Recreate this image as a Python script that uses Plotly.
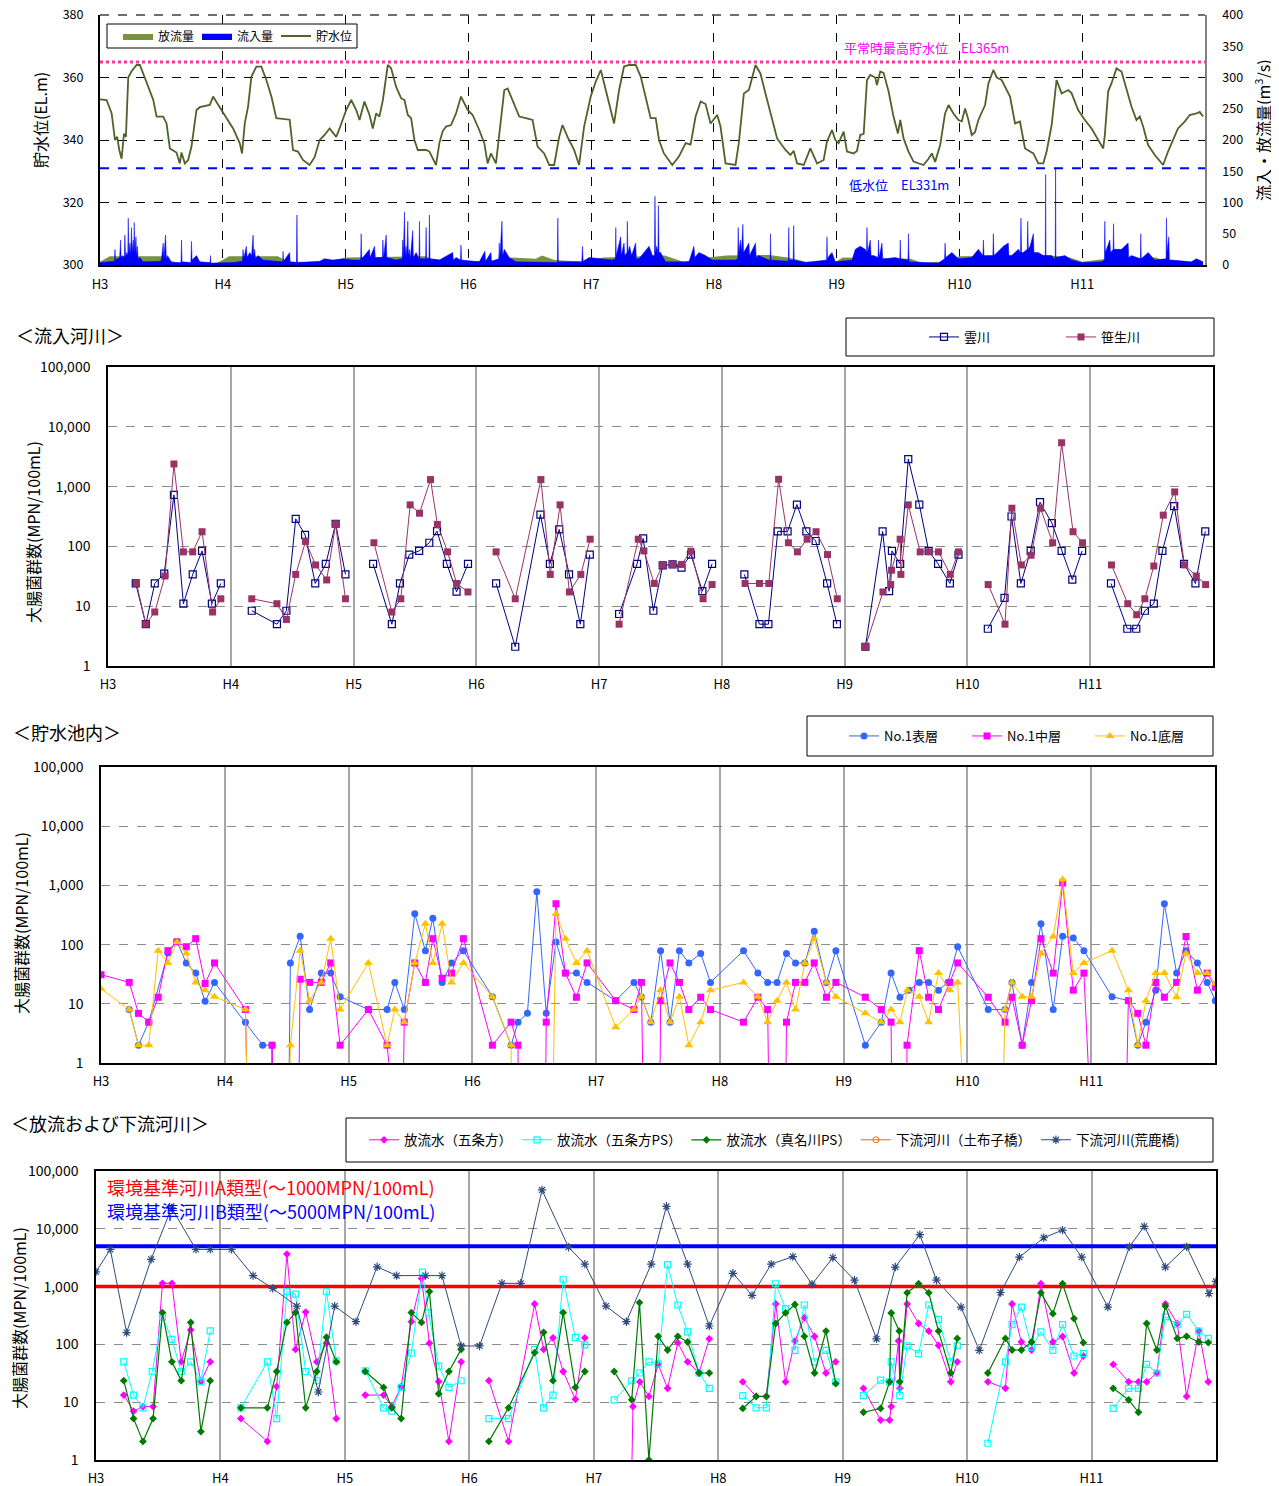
import plotly.graph_objects as go

W, H = 1279, 1486
OFF = 8  # page offset of the figure div (browser body margin)
FONT = "Noto Sans CJK JP, Noto Sans, sans-serif"


def px_x(p):
    return (p - OFF) / W


def px_y(p):
    return 1 - (p - OFF) / H


YEAR_POS = [0, 1, 2, 3, 4, 5, 6, 7, 8]
YEAR_LABELS = ["H3", "H4", "H5", "H6", "H7", "H8", "H9", "H10", "H11"]

# ---------------- Panel 1: reservoir level / inflow / outflow ----------------
LEVEL_T = [0.000, 0.054, 0.095, 0.122, 0.140, 0.157, 0.176, 0.195, 0.211, 0.230, 0.257, 0.298, 0.325, 0.393,
           0.434, 0.461, 0.515, 0.542, 0.569, 0.623, 0.650, 0.664, 0.691, 0.718, 0.745, 0.786, 0.813, 0.894,
           0.921, 0.989, 1.030, 1.084, 1.138, 1.157, 1.179, 1.206, 1.233, 1.274, 1.314, 1.355, 1.396, 1.436,
           1.545, 1.572, 1.612, 1.653, 1.707, 1.748, 1.789, 1.829, 1.870, 1.924, 1.951, 2.005, 2.046, 2.087,
           2.114, 2.154, 2.195, 2.222, 2.249, 2.276, 2.304, 2.344, 2.371, 2.412, 2.453, 2.480, 2.507, 2.534,
           2.561, 2.588, 2.629, 2.656, 2.683, 2.710, 2.737, 2.764, 2.790, 2.818, 2.859, 2.900, 2.940, 2.995,
           3.035, 3.089, 3.130, 3.157, 3.184, 3.225, 3.252, 3.293, 3.320, 3.361, 3.415, 3.469, 3.523, 3.564,
           3.618, 3.659, 3.699, 3.740, 3.767, 3.808, 3.862, 3.902, 3.943, 3.997, 4.038, 4.079, 4.119, 4.160,
           4.187, 4.228, 4.268, 4.309, 4.363, 4.404, 4.444, 4.485, 4.526, 4.553, 4.593, 4.661, 4.715, 4.770,
           4.810, 4.851, 4.892, 4.932, 4.973, 5.027, 5.054, 5.095, 5.176, 5.203, 5.244, 5.285, 5.339, 5.379,
           5.420, 5.460, 5.515, 5.583, 5.623, 5.650, 5.678, 5.732, 5.786, 5.840, 5.894, 5.921, 5.962, 5.989,
           6.016, 6.057, 6.084, 6.138, 6.165, 6.192, 6.220, 6.247, 6.274, 6.314, 6.328, 6.355, 6.382, 6.423,
           6.463, 6.499, 6.518, 6.545, 6.585, 6.626, 6.667, 6.707, 6.748, 6.775, 6.802, 6.843, 6.883, 6.911,
           6.951, 6.992, 7.019, 7.046, 7.073, 7.100, 7.127, 7.154, 7.209, 7.236, 7.276, 7.304, 7.344, 7.371,
           7.412, 7.453, 7.493, 7.534, 7.602, 7.642, 7.683, 7.710, 7.751, 7.791, 7.832, 7.886, 7.913, 7.967,
           8.022, 8.076, 8.130, 8.171, 8.184, 8.211, 8.238, 8.279, 8.320, 8.360, 8.401, 8.442, 8.469, 8.496,
           8.537, 8.591, 8.659, 8.699, 8.740, 8.780, 8.835, 8.875, 8.930, 8.957, 8.984]
LEVEL_V = [353.0, 352.8, 348.5, 340.0, 341.0, 336.8, 334.0, 342.0, 341.0, 360.0, 362.0, 364.0, 364.0, 357.0,
           352.8, 347.5, 347.5, 345.3, 337.3, 336.0, 332.5, 336.0, 332.5, 333.6, 337.9, 349.6, 350.5, 351.2,
           353.9, 349.6, 347.0, 343.7, 339.0, 335.7, 345.3, 350.7, 360.3, 363.5, 363.5, 359.2, 353.9, 347.0,
           346.5, 336.8, 336.3, 333.6, 332.0, 334.5, 340.0, 341.6, 343.7, 341.0, 343.7, 349.6, 352.8, 349.6,
           346.4, 352.3, 348.0, 343.7, 348.5, 347.5, 352.8, 364.0, 363.0, 357.0, 353.3, 352.8, 348.0, 347.0,
           340.0, 336.8, 336.8, 336.8, 336.3, 334.0, 332.0, 339.0, 342.7, 344.3, 344.8, 348.5, 353.9, 349.6,
           348.0, 343.2, 339.0, 332.5, 335.7, 332.5, 342.0, 356.0, 356.5, 352.8, 347.5, 347.0, 346.4, 337.9,
           335.7, 332.0, 332.0, 341.0, 344.8, 341.0, 336.8, 332.0, 344.3, 353.9, 358.7, 362.4, 356.0, 349.6,
           345.3, 356.0, 363.5, 364.0, 364.0, 360.3, 353.9, 347.0, 347.0, 340.0, 335.7, 332.0, 334.7, 339.0,
           338.5, 347.5, 352.3, 351.5, 345.3, 348.0, 344.3, 332.5, 332.0, 339.0, 354.9, 356.0, 364.0, 361.3,
           354.9, 348.5, 340.5, 336.8, 335.2, 336.5, 332.5, 332.0, 337.3, 332.5, 333.6, 339.5, 343.2, 340.0,
           339.0, 342.7, 336.3, 335.7, 336.5, 341.6, 342.0, 359.2, 360.8, 360.0, 357.6, 361.9, 361.5, 355.5,
           347.5, 342.1, 346.4, 340.5, 336.3, 333.1, 332.5, 332.0, 334.0, 335.7, 333.0, 338.4, 348.5, 351.2,
           348.5, 346.4, 346.0, 350.1, 346.4, 341.6, 342.5, 346.4, 351.2, 358.1, 362.4, 360.0, 359.2, 357.0,
           353.9, 345.3, 345.9, 337.3, 335.7, 332.5, 332.5, 336.3, 344.8, 359.2, 354.9, 356.0, 355.0, 349.6,
           346.4, 343.7, 340.0, 337.3, 341.5, 355.5, 358.1, 362.9, 361.9, 356.5, 350.7, 346.4, 347.5, 344.3,
           338.4, 335.2, 332.0, 336.3, 340.0, 343.7, 345.9, 348.0, 348.5, 349.0, 347.5]

INFLOW_T = [0.000, 0.081, 0.118, 0.122, 0.126, 0.141, 0.160, 0.168, 0.172, 0.184, 0.198, 0.203, 0.208, 0.217,
            0.226, 0.230, 0.235, 0.244, 0.250, 0.257, 0.262, 0.271, 0.275, 0.279, 0.284, 0.293, 0.298, 0.304,
            0.310, 0.325, 0.352, 0.495, 0.501, 0.515, 0.520, 0.534, 0.540, 0.550, 0.583, 0.660, 0.664, 0.668,
            0.740, 0.745, 0.750, 0.786, 0.813, 0.897, 0.900, 0.904, 1.084, 1.160, 1.165, 1.170, 1.192, 1.198,
            1.220, 1.235, 1.247, 1.252, 1.260, 1.266, 1.287, 1.328, 1.488, 1.491, 1.495, 1.545, 1.549, 1.600,
            1.604, 1.608, 1.789, 1.829, 1.897, 1.978, 2.060, 2.123, 2.127, 2.132, 2.195, 2.200, 2.236, 2.242,
            2.300, 2.304, 2.310, 2.331, 2.336, 2.412, 2.462, 2.466, 2.470, 2.480, 2.485, 2.493, 2.499, 2.507,
            2.512, 2.520, 2.527, 2.547, 2.552, 2.575, 2.598, 2.602, 2.606, 2.652, 2.656, 2.660, 2.679, 2.683,
            2.688, 2.764, 2.873, 2.878, 2.900, 2.936, 2.940, 2.945, 3.089, 3.135, 3.140, 3.184, 3.189, 3.248,
            3.252, 3.256, 3.274, 3.279, 3.293, 3.333, 3.388, 3.725, 3.729, 3.733, 3.924, 3.930, 3.935, 3.984,
            4.173, 4.198, 4.201, 4.205, 4.241, 4.246, 4.268, 4.274, 4.292, 4.295, 4.299, 4.314, 4.330, 4.363,
            4.368, 4.390, 4.472, 4.499, 4.516, 4.520, 4.525, 4.534, 4.544, 4.548, 4.553, 4.566, 4.607, 4.797,
            4.837, 4.845, 4.878, 4.932, 4.986, 5.176, 5.194, 5.198, 5.203, 5.217, 5.225, 5.236, 5.241, 5.257,
            5.285, 5.290, 5.312, 5.339, 5.344, 5.366, 5.447, 5.458, 5.461, 5.465, 5.606, 5.610, 5.614, 5.646,
            5.650, 5.654, 5.745, 5.908, 5.918, 5.921, 5.925, 5.940, 5.962, 5.989, 6.125, 6.152, 6.192, 6.233,
            6.243, 6.247, 6.252, 6.274, 6.280, 6.301, 6.337, 6.341, 6.346, 6.369, 6.375, 6.396, 6.477, 6.514,
            6.518, 6.522, 6.581, 6.585, 6.590, 6.829, 6.879, 6.883, 6.888, 6.938, 6.992, 7.100, 7.154, 7.191,
            7.195, 7.200, 7.272, 7.276, 7.281, 7.358, 7.398, 7.403, 7.425, 7.480, 7.497, 7.501, 7.506, 7.520,
            7.552, 7.556, 7.561, 7.575, 7.602, 7.607, 7.642, 7.683, 7.699, 7.702, 7.705, 7.751, 7.772, 7.780,
            7.783, 7.786, 7.859, 7.913, 7.995, 8.157, 8.181, 8.184, 8.188, 8.225, 8.231, 8.252, 8.255, 8.259,
            8.320, 8.374, 8.379, 8.401, 8.474, 8.477, 8.481, 8.537, 8.591, 8.672, 8.683, 8.686, 8.690, 8.705,
            8.710, 8.726, 8.889, 8.930, 8.984]
INFLOW_Q = [4, 5, 6, 25, 8, 10, 12, 40, 10, 15, 12, 48, 12, 20,
            15, 75, 18, 35, 15, 60, 20, 40, 20, 68, 20, 45, 15, 30,
            10, 12, 5, 6, 10, 35, 10, 48, 10, 15, 4, 4, 40, 5,
            4, 38, 8, 15, 5, 4, 15, 3, 4, 6, 25, 10, 30, 12,
            20, 15, 48, 15, 25, 10, 15, 8, 5, 22, 6, 20, 5, 4,
            80, 4, 6, 10, 8, 10, 8, 8, 50, 10, 25, 12, 30, 12,
            12, 40, 12, 48, 12, 8, 10, 40, 12, 85, 15, 30, 12, 70,
            15, 25, 10, 55, 12, 20, 10, 70, 10, 10, 60, 10, 10, 80,
            10, 8, 20, 8, 12, 8, 32, 8, 5, 22, 6, 20, 6, 10,
            35, 10, 70, 15, 25, 12, 5, 4, 75, 5, 5, 30, 6, 12,
            8, 10, 60, 15, 45, 15, 35, 15, 20, 70, 20, 30, 15, 35,
            10, 10, 30, 15, 15, 110, 20, 30, 20, 95, 20, 20, 5, 5,
            30, 12, 20, 15, 8, 8, 10, 60, 20, 40, 20, 65, 20, 25,
            35, 15, 25, 35, 12, 15, 8, 8, 50, 8, 6, 60, 8, 8,
            63, 8, 4, 8, 8, 45, 10, 15, 20, 5, 8, 25, 30, 25,
            20, 60, 20, 40, 15, 15, 12, 40, 12, 35, 10, 10, 12, 10,
            40, 10, 8, 50, 5, 3, 10, 35, 12, 20, 10, 12, 25, 15,
            40, 15, 15, 50, 15, 30, 35, 15, 15, 25, 20, 75, 20, 20,
            25, 70, 25, 30, 50, 20, 20, 15, 15, 145, 15, 15, 10, 10,
            155, 12, 15, 8, 4, 5, 8, 70, 20, 40, 20, 25, 66, 25,
            25, 35, 12, 15, 10, 50, 10, 20, 8, 10, 10, 75, 20, 45,
            8, 8, 5, 10, 5]

OUTFLOW_T = [0.0, 0.08, 0.5, 0.55, 0.65, 0.95, 1.0, 1.05, 1.45, 1.5, 1.55, 1.9, 1.95, 2.0, 2.65, 2.7,
             2.95, 3.3, 3.35, 3.55, 3.6, 3.7, 3.95, 4.1, 4.6, 4.75, 4.95, 5.1, 5.45, 5.6, 5.75, 6.0,
             6.05, 6.6, 6.7, 6.9, 7.0, 7.7, 7.9, 8.0, 8.2, 8.6, 8.7, 8.98]
OUTFLOW_Q = [5, 14, 14, 8, 3, 3, 8, 14, 14, 8, 5, 4, 8, 12, 14, 10,
             5, 8, 12, 10, 15, 8, 5, 12, 15, 5, 12, 15, 16, 12, 5, 6,
             12, 10, 3, 6, 14, 16, 12, 5, 10, 12, 4, 4]

NORMAL_HWL = 365
LOW_WL = 331

# ---------------- Panel 2: inflow rivers (None = gap between years) ----------------
KUMO_T = [0.226, 0.308, 0.381, 0.458, 0.537, 0.614, 0.690, 0.766, 0.846, 0.919, None,
          1.171, 1.376, 1.453, 1.529, 1.605, 1.688, 1.774, 1.854, 1.934, None,
          2.159, 2.312, 2.378, 2.454, 2.534, 2.617, 2.680, 2.760, 2.839, 2.932, None,
          3.161, 3.317, 3.522, 3.599, 3.675, 3.755, 3.847, 3.924, None,
          4.163, 4.309, 4.359, 4.442, 4.518, 4.598, 4.671, 4.748, 4.841, 4.920, None,
          5.183, 5.306, 5.379, 5.455, 5.535, 5.611, 5.688, 5.764, 5.857, 5.937, None,
          6.169, 6.309, 6.362, 6.385, 6.452, 6.518, 6.608, 6.684, 6.761, 6.857, 6.927, None,
          7.166, 7.302, 7.359, 7.435, 7.515, 7.591, 7.688, 7.767, 7.854, 7.934, None,
          8.169, 8.302, 8.375, 8.445, 8.518, 8.588, 8.684, 8.764, 8.857, 8.937]
KUMO_V = [24, 5, 24, 35, 725, 11, 34, 84, 11, 24, None,
          8.4, 5, 8.4, 289, 156, 24, 51, 239, 34, None,
          51, 5, 24, 73, 84, 115, 180, 51, 17.5, 51, None,
          24, 2.1, 341, 51, 192, 34, 5, 73, None,
          7.4, 51, 136, 8.4, 48, 50, 44, 73, 17.8, 51, None,
          34, 5, 5, 178, 178, 501, 178, 123, 24, 5, None,
          2.1, 178, 17.8, 84, 51, 2890, 501, 84, 51, 24, 73, None,
          4.2, 13.8, 316, 24, 84, 548, 245, 84, 27.8, 84, None,
          24, 4.2, 4.2, 8.4, 11, 84, 470, 51, 24, 178]

SASO_T = [0.232, 0.308, 0.381, 0.464, 0.537, 0.614, 0.690, 0.766, 0.852, 0.919, None,
          1.171, 1.376, 1.453, 1.529, 1.609, 1.691, 1.781, 1.854, 1.934, None,
          2.166, 2.312, 2.385, 2.461, 2.537, 2.627, 2.683, 2.766, 2.839, 2.932, None,
          3.161, 3.317, 3.526, 3.602, 3.682, 3.758, 3.851, 3.927, None,
          4.163, 4.319, 4.365, 4.449, 4.518, 4.598, 4.671, 4.748, 4.847, 4.920, None,
          5.189, 5.306, 5.382, 5.462, 5.542, 5.615, 5.694, 5.767, 5.860, 5.940, None,
          6.169, 6.312, 6.375, 6.382, 6.452, 6.458, 6.518, 6.615, 6.688, 6.764, 6.860, 6.927, None,
          7.169, 7.306, 7.362, 7.439, 7.518, 7.595, 7.694, 7.767, 7.860, 7.937, None,
          8.173, 8.306, 8.379, 8.445, 8.518, 8.595, 8.688, 8.767, 8.864, 8.940]
SASO_V = [24, 5, 8, 32, 2390, 81, 81, 176, 8, 13.3, None,
          13.3, 11, 6, 34, 121, 49, 27.5, 233, 13.3, None,
          115, 8, 13.3, 495, 359, 1310, 233, 81, 24, 17.3, None,
          81, 13.3, 1310, 34, 495, 17.3, 34, 132, None,
          5, 132, 84, 24, 49, 50, 50, 83, 13.3, 23, None,
          24, 24, 24, 1325, 115, 81, 132, 176, 73, 13.3, None,
          2.1, 17.3, 23, 40, 132, 34, 495, 81, 81, 81, 34, 81, None,
          23, 5, 435, 49, 71, 435, 115, 5410, 176, 115, None,
          49, 11, 7.2, 13.3, 47, 333, 815, 49, 32, 23]

# ---------------- Panel 3: reservoir (0 = below detection, drawn off-scale) ----------------
SURF_T = [0.228, 0.303, 0.386, 0.541, 0.613, 0.689, 0.765, 0.841, 0.917,
          1.167, 1.306, 1.382, 1.400, 1.510, 1.530, 1.609, 1.685, 1.780, 1.856, 1.932,
          2.160, 2.311, 2.374, 2.450, 2.535, 2.621, 2.681, 2.756, 2.832, 2.928,
          3.162, 3.313, 3.369, 3.445, 3.521, 3.597, 3.676, 3.752, 3.841, 3.927,
          4.158, 4.306, 4.366, 4.442, 4.521, 4.597, 4.673, 4.749, 4.845, 4.924,
          5.191, 5.307, 5.386, 5.462, 5.538, 5.611, 5.686, 5.762, 5.861, 5.937,
          6.175, 6.304, 6.383, 6.455, 6.528, 6.611, 6.686, 6.766, 6.842, 6.921,
          7.168, 7.304, 7.360, 7.442, 7.518, 7.594, 7.693, 7.769, 7.855, 7.941,
          8.168, 8.300, 8.376, 8.442, 8.521, 8.591, 8.690, 8.766, 8.858, 8.937, 9.003]
SURF_V = [8, 2, 4.9, 72, 113, 49, 33, 11, 23,
          4.9, 2, 2, 0, 0, 49, 138, 8, 33, 33, 13.2,
          8, 8, 23, 8, 331, 79, 279, 23, 49, 79,
          13.2, 2, 4.9, 6.9, 780, 6.9, 111, 33, 33, 23,
          11.3, 23, 13, 4.9, 79, 4.9, 79, 49, 71, 23,
          79, 33, 23, 23, 71, 49, 49, 168, 23, 79,
          2, 4.9, 33, 12.9, 17, 23, 23, 17, 23, 92,
          8, 8, 23, 2, 23, 224, 8, 138, 129, 79,
          13.2, 11.3, 2, 4.9, 17, 490, 33, 79, 49, 23, 11.3]

MID_T = [0.000, 0.228, 0.303, 0.386, 0.462, 0.541, 0.613, 0.689, 0.765, 0.841, 0.917,
         1.167, 1.196, 1.370, 1.382, 1.395, 1.590, 1.609, 1.685, 1.780, 1.856, 1.932,
         2.160, 2.311, 2.430, 2.450, 2.535, 2.621, 2.681, 2.756, 2.832, 2.928,
         3.162, 3.313, 3.369, 3.375, 3.585, 3.597, 3.676, 3.752, 3.841, 3.927,
         4.158, 4.306, 4.366, 4.390, 4.510, 4.521, 4.597, 4.673, 4.749, 4.845, 4.924,
         5.191, 5.307, 5.386, 5.405, 5.525, 5.538, 5.611, 5.686, 5.762, 5.861, 5.937,
         6.175, 6.304, 6.383, 6.395, 6.505, 6.512, 6.611, 6.686, 6.766, 6.858, 6.921,
         7.168, 7.304, 7.360, 7.442, 7.518, 7.594, 7.693, 7.769, 7.855, 7.941, 8.020, 8.270,
         8.300, 8.376, 8.442, 8.521, 8.591, 8.690, 8.766, 8.858, 8.937, 9.003]
MID_V = [31, 23, 6.9, 4.9, 12.9, 79, 111, 92, 126, 22, 49,
         8, 0, 0, 2, 0, 0, 26, 23, 23, 49, 2,
         8, 2, 0, 4.9, 49, 23, 126, 27, 33, 126,
         2, 4.9, 2, 0, 0, 4.9, 490, 33, 12.9, 49,
         11.3, 8, 23, 0, 0, 11.3, 49, 23, 8, 12.9, 8,
         4.9, 12.9, 8, 0, 0, 4.9, 23, 23, 49, 12.9, 23,
         12.9, 8, 4.9, 0, 0, 2, 79, 12.9, 8, 23, 49,
         12.9, 4.9, 12.9, 2, 11.3, 126, 33, 1100, 17, 33, 0, 0,
         11.3, 6.9, 2, 23, 12.9, 23, 137, 17, 33, 19]

BOT_T = [0.000, 0.228, 0.303, 0.386, 0.462, 0.541, 0.613, 0.689, 0.765, 0.841, 0.917,
         1.167, 1.196, 1.510, 1.530, 1.609, 1.685, 1.780, 1.856, 1.932,
         2.160, 2.311, 2.374, 2.450, 2.535, 2.621, 2.681, 2.756, 2.832, 2.928,
         3.162, 3.313, 3.323, 3.640, 3.676, 3.752, 3.841, 3.927,
         4.158, 4.306, 4.366, 4.442, 4.521, 4.597, 4.673, 4.749, 4.845, 4.924,
         5.191, 5.307, 5.386, 5.462, 5.538, 5.611, 5.686, 5.762, 5.861, 5.937,
         6.175, 6.304, 6.383, 6.455, 6.515, 6.611, 6.686, 6.766, 6.858, 6.921, 7.000, 7.270,
         7.304, 7.360, 7.442, 7.518, 7.594, 7.693, 7.769, 7.855, 7.941,
         8.168, 8.300, 8.376, 8.442, 8.521, 8.591, 8.690, 8.766, 8.858, 8.937, 9.003]
BOT_V = [18, 8, 2, 2, 79, 49, 111, 71, 23, 17, 13.2,
         8, 0, 0, 2, 79, 11.3, 23, 126, 8,
         49, 2, 8, 4.9, 49, 224, 49, 224, 23, 49,
         13.2, 2, 0, 0, 331, 126, 49, 79,
         4, 8, 13.2, 4.9, 17, 4.9, 13.2, 2, 4.9, 17,
         23, 13.2, 4.9, 11.3, 23, 8, 49, 126, 23, 13.2,
         6.9, 4.9, 8, 4.9, 17, 13.2, 4.9, 33, 17, 23, 0, 0,
         8, 23, 13.2, 13.2, 71, 137, 1260, 33, 49,
         79, 17, 2, 11.3, 33, 33, 12.9, 71, 33, 33, 22]

# ---------------- Panel 4: discharge and downstream ----------------
GOJO_T = [0.223, 0.302, 0.377, 0.459, 0.534, 0.610, 0.685, 0.761, 0.843, 0.918, None,
          1.164, 1.377, 1.452, 1.534, 1.603, 1.685, 1.774, 1.852, 1.931, None,
          2.164, 2.311, 2.377, 2.452, 2.534, 2.616, 2.679, 2.754, 2.836, 2.934, None,
          3.157, 3.315, 3.525, 3.597, 3.672, 3.754, 3.852, 3.928, None,
          4.290, 4.315, 4.370, 4.443, 4.518, 4.593, 4.675, 4.754, 4.846, 4.928, None,
          5.197, 5.305, 5.387, 5.462, 5.541, 5.616, 5.692, 5.774, 5.866, 5.944, None,
          6.167, 6.305, 6.377, 6.390, 6.449, 6.459, 6.518, 6.610, 6.692, 6.770, 6.869, 6.921, None,
          7.167, 7.308, 7.361, 7.436, 7.518, 7.593, 7.689, 7.767, 7.859, 7.934, None,
          8.174, 8.298, 8.377, 8.443, 8.525, 8.593, 8.689, 8.764, 8.862, 8.938]
GOJO_V = [13.3, 7, 8.4, 8.4, 1140, 1140, 50, 178, 22.7, 50, None,
          5.2, 2.1, 18.6, 3650, 82, 363, 50, 105, 5.2, None,
          13.3, 13.3, 8.4, 18.6, 247, 1380, 105, 22.7, 2.1, 50, None,
          23.6, 2.1, 500, 82, 130, 34, 11.2, 130, None,
          0, 8.4, 22.5, 12.6, 45, 17.4, 107, 50, 32, 125, None,
          22.5, 12.6, 12.6, 500, 22.5, 114, 290, 137, 32, 50, None,
          17.4, 4.9, 4.9, 8.4, 115, 17.4, 500, 230, 170, 96, 22.5, 50, None,
          22.5, 17.4, 500, 110, 80, 1120, 110, 137, 32, 63, None,
          45, 22.5, 22.5, 22.5, 32, 500, 230, 12.6, 170, 22.5]

GOJOPS_T = [0.223, 0.302, 0.377, 0.452, 0.534, 0.610, 0.685, 0.761, 0.843, 0.918, None,
            1.164, 1.377, 1.452, 1.534, 1.603, 1.685, 1.774, 1.852, 1.931, None,
            2.164, 2.311, 2.377, 2.452, 2.534, 2.623, 2.672, 2.754, 2.836, 2.934, None,
            3.157, 3.315, 3.525, 3.597, 3.672, 3.754, 3.852, 3.928, None,
            4.164, 4.305, 4.370, 4.443, 4.518, 4.593, 4.675, 4.754, 4.846, 4.928, None,
            5.197, 5.305, 5.387, 5.462, 5.541, 5.616, 5.692, 5.774, 5.866, 5.944, None,
            6.167, 6.305, 6.377, 6.390, 6.459, 6.518, 6.610, 6.692, 6.770, 6.869, 6.921, None,
            7.167, 7.308, 7.361, 7.436, 7.518, 7.593, 7.689, 7.767, 7.859, 7.934, None,
            8.174, 8.298, 8.377, 8.443, 8.525, 8.593, 8.689, 8.764, 8.862, 8.938]
GOJOPS_V = [50, 13.3, 8, 34, 300, 122, 34, 50, 22.7, 172, None,
            8, 50, 5.2, 820, 740, 34, 23.5, 820, 52, None,
            35, 8, 7, 18, 71, 1780, 350, 42, 18, 23.5, None,
            5.2, 5.2, 82, 8, 13.3, 1340, 131, 98, None,
            11, 23.5, 32, 50, 46, 2400, 480, 165, 32, 17.4, None,
            13, 8, 8, 1120, 415, 79, 480, 50, 79, 22.5, None,
            13, 24, 22.5, 50, 13, 94, 69, 480, 270, 50, 94, None,
            1.95, 50, 220, 440, 90, 165, 79, 220, 63, 69, None,
            7.8, 17.4, 17.4, 45, 32, 300, 220, 330, 170, 127]

MANA_T = [0.223, 0.302, 0.377, 0.459, 0.534, 0.610, 0.685, 0.761, 0.843, 0.918, None,
          1.164, 1.377, 1.452, 1.534, 1.603, 1.685, 1.774, 1.852, 1.931, None,
          2.164, 2.311, 2.377, 2.452, 2.534, 2.616, 2.679, 2.754, 2.836, 2.934, None,
          3.157, 3.315, 3.525, 3.597, 3.672, 3.754, 3.852, 3.928, None,
          4.164, 4.305, 4.367, 4.443, 4.518, 4.593, 4.675, 4.754, 4.846, 4.928, None,
          5.197, 5.305, 5.387, 5.462, 5.541, 5.616, 5.692, 5.774, 5.866, 5.944, None,
          6.167, 6.305, 6.377, 6.390, 6.455, 6.459, 6.518, 6.610, 6.692, 6.770, 6.869, 6.921, None,
          7.167, 7.308, 7.361, 7.436, 7.518, 7.593, 7.689, 7.767, 7.859, 7.934, None,
          8.174, 8.298, 8.377, 8.443, 8.525, 8.593, 8.689, 8.764, 8.862, 8.938]
MANA_V = [23.6, 5.2, 2.1, 5.2, 355, 50, 23.6, 240, 3.1, 23.6, None,
          8, 8, 34, 240, 355, 8, 34, 133, 50, None,
          34, 18, 8, 5.2, 355, 240, 820, 14, 34, 82, None,
          2.1, 8, 72, 162, 23.6, 355, 18, 34, None,
          34, 11, 530, 1, 138, 80, 138, 110, 32, 32, None,
          7.8, 12.6, 12.6, 230, 350, 490, 138, 32, 170, 21, None,
          6.7, 7.8, 22.5, 350, 170, 22.5, 780, 1120, 780, 170, 32, 127, None,
          32, 127, 80, 80, 110, 780, 340, 1120, 280, 107, None,
          17.4, 11, 6.7, 230, 80, 460, 127, 138, 110, 107]

DOFUKO_T = [None]
DOFUKO_V = [None]

ARAKA_T = [0.000, 0.115, 0.246, 0.443, 0.607, 0.803, 0.918, 1.089, 1.262, 1.420, 1.613, 1.787, 1.918,
           2.089, 2.259, 2.416, 2.649, 2.780, 2.934, 3.082, 3.262, 3.413, 3.584, 3.797, 3.928, 4.098,
           4.262, 4.462, 4.584, 4.754, 4.928, 5.118, 5.272, 5.426, 5.600, 5.754, 5.921, 6.095, 6.272,
           6.423, 6.620, 6.754, 6.951, 7.098, 7.269, 7.420, 7.616, 7.767, 7.921, 8.131, 8.305, 8.423,
           8.593, 8.764, 8.944, 9.000]
ARAKA_V = [1800, 4400, 160, 2960, 23000, 4400, 4400, 4400, 1550, 930, 460, 15, 460,
           247, 2200, 1550, 1550, 1550, 94, 94, 1140, 1140, 47000, 4800, 2450, 460,
           247, 2450, 24500, 2450, 208, 1700, 706, 2450, 3300, 1100, 3170, 1290, 125,
           2180, 7940, 1290, 443, 79, 790, 3240, 7000, 9500, 3240, 443, 4900, 11000,
           2180, 4900, 760, 1230]

STD_A = 1000
STD_B = 5000

LOG_TICKS = [1, 10, 100, 1000, 10000, 100000]
LOG_TEXT = ["1", "10", "100", "1,000", "10,000", "100,000"]
OFF_SCALE = 0.01


def plot_vals(vals):
    return [None if v is None else (v if v > 0 else OFF_SCALE) for v in vals]


fig = go.Figure()

# ---- Panel 1 traces
fig.add_trace(go.Scatter(x=OUTFLOW_T, y=OUTFLOW_Q, xaxis="x", yaxis="y2", mode="lines",
                         fill="tozeroy", fillcolor="#77933C", line=dict(width=0, color="#77933C"),
                         name="放流量", legend="legend", hoverinfo="skip"))
fig.add_trace(go.Scatter(x=INFLOW_T, y=INFLOW_Q, xaxis="x", yaxis="y2", mode="lines",
                         fill="tozeroy", fillcolor="#0000FF", line=dict(width=0.5, color="#0000FF"),
                         name="流入量", legend="legend", hoverinfo="skip"))
fig.add_trace(go.Scatter(x=LEVEL_T, y=LEVEL_V, xaxis="x", yaxis="y", mode="lines",
                         line=dict(width=1.8, color="#4F6228"), name="貯水位", legend="legend"))
fig.add_trace(go.Scatter(x=[0, 9], y=[NORMAL_HWL, NORMAL_HWL], xaxis="x", yaxis="y", mode="lines",
                         line=dict(width=3, color="#FF3399", dash="dot"), showlegend=False, hoverinfo="skip"))
fig.add_trace(go.Scatter(x=[0, 9], y=[LOW_WL, LOW_WL], xaxis="x", yaxis="y", mode="lines",
                         line=dict(width=2, color="#0000FF", dash="dash"), showlegend=False, hoverinfo="skip"))

# ---- Panel 2 traces
fig.add_trace(go.Scatter(x=KUMO_T, y=plot_vals(KUMO_V), xaxis="x2", yaxis="y3", mode="lines+markers",
                         line=dict(width=1, color="#000080"),
                         marker=dict(symbol="square-open", size=7, color="#000080", line=dict(width=1.2)),
                         name="雲川", legend="legend2", connectgaps=False))
fig.add_trace(go.Scatter(x=SASO_T, y=plot_vals(SASO_V), xaxis="x2", yaxis="y3", mode="lines+markers",
                         line=dict(width=1, color="#993366"),
                         marker=dict(symbol="square", size=7, color="#993366"),
                         name="笹生川", legend="legend2", connectgaps=False))

# ---- Panel 3 traces
fig.add_trace(go.Scatter(x=SURF_T, y=plot_vals(SURF_V), xaxis="x3", yaxis="y4", mode="lines+markers",
                         line=dict(width=1, color="#3366FF"),
                         marker=dict(symbol="circle", size=7, color="#3366FF"),
                         name="No.1表層", legend="legend3"))
fig.add_trace(go.Scatter(x=MID_T, y=plot_vals(MID_V), xaxis="x3", yaxis="y4", mode="lines+markers",
                         line=dict(width=1, color="#FF00FF"),
                         marker=dict(symbol="square", size=7, color="#FF00FF"),
                         name="No.1中層", legend="legend3"))
fig.add_trace(go.Scatter(x=BOT_T, y=plot_vals(BOT_V), xaxis="x3", yaxis="y4", mode="lines+markers",
                         line=dict(width=1, color="#FFC000"),
                         marker=dict(symbol="triangle-up", size=8, color="#FFC000"),
                         name="No.1底層", legend="legend3"))

# ---- Panel 4 traces
fig.add_trace(go.Scatter(x=[0, 9], y=[STD_A, STD_A], xaxis="x4", yaxis="y5", mode="lines",
                         line=dict(width=3.5, color="#FF0000"), showlegend=False, hoverinfo="skip"))
fig.add_trace(go.Scatter(x=[0, 9], y=[STD_B, STD_B], xaxis="x4", yaxis="y5", mode="lines",
                         line=dict(width=4, color="#0000FF"), showlegend=False, hoverinfo="skip"))
fig.add_trace(go.Scatter(x=GOJO_T, y=plot_vals(GOJO_V), xaxis="x4", yaxis="y5", mode="lines+markers",
                         line=dict(width=1, color="#FF00FF"),
                         marker=dict(symbol="diamond", size=6, color="#FF00FF"),
                         name="放流水（五条方）", legend="legend4", connectgaps=False))
fig.add_trace(go.Scatter(x=GOJOPS_T, y=plot_vals(GOJOPS_V), xaxis="x4", yaxis="y5", mode="lines+markers",
                         line=dict(width=1, color="#00FFFF"),
                         marker=dict(symbol="square-open", size=6, color="#00FFFF", line=dict(width=1.2)),
                         name="放流水（五条方PS）", legend="legend4", connectgaps=False))
fig.add_trace(go.Scatter(x=MANA_T, y=plot_vals(MANA_V), xaxis="x4", yaxis="y5", mode="lines+markers",
                         line=dict(width=1.2, color="#007A00"),
                         marker=dict(symbol="diamond", size=6, color="#007A00"),
                         name="放流水（真名川PS）", legend="legend4", connectgaps=False))
fig.add_trace(go.Scatter(x=DOFUKO_T, y=DOFUKO_V, xaxis="x4", yaxis="y5", mode="lines+markers",
                         line=dict(width=1, color="#FF6600"),
                         marker=dict(symbol="circle-open", size=6, color="#FF6600"),
                         name="下流河川（土布子橋）", legend="legend4"))
fig.add_trace(go.Scatter(x=ARAKA_T, y=plot_vals(ARAKA_V), xaxis="x4", yaxis="y5", mode="lines+markers",
                         line=dict(width=1, color="#2E4A7D"),
                         marker=dict(symbol="asterisk-open", size=7, color="#2E4A7D",
                                     line=dict(width=1.2, color="#2E4A7D")),
                         name="下流河川(荒鹿橋)", legend="legend4"))

XTICKFONT = dict(family=FONT, size=13, color="black")
YTICKFONT = dict(family=FONT, size=14, color="black")
Y1TICKFONT = dict(family=FONT, size=12.5, color="black")


def time_axis(x0, x1, anchor, dashed):
    return dict(domain=[px_x(x0), px_x(x1)], anchor=anchor, range=[0, 9],
                tickvals=YEAR_POS, ticktext=YEAR_LABELS, tickfont=XTICKFONT,
                showgrid=True, gridcolor="black" if dashed else "#A6A6A6",
                griddash="dash" if dashed else "solid", gridwidth=1 if dashed else 1.5,
                showline=True, linecolor="black", linewidth=2 if dashed else 1.5,
                mirror=False if dashed else True, ticks="", ticklabelstandoff=6, zeroline=False,
                ticklabeloverflow="allow")


def log_axis(top, bottom, anchor):
    return dict(domain=[px_y(bottom), px_y(top)], anchor=anchor, type="log", range=[0, 5],
                tickvals=LOG_TICKS, ticktext=LOG_TEXT, tickfont=YTICKFONT,
                showgrid=True, gridcolor="#8C8C8C", griddash="dash", gridwidth=1,
                showline=True, linecolor="black", linewidth=1.5, mirror=True,
                ticks="", ticklabelstandoff=13, zeroline=False, ticklabeloverflow="allow")


layout = dict(
    width=W, height=H, margin=dict(l=0, r=0, t=0, b=0, autoexpand=False),
    paper_bgcolor="white", plot_bgcolor="white",
    font=dict(family=FONT, size=13, color="black"),
    xaxis=time_axis(100, 1205, "y", True),
    yaxis=dict(domain=[px_y(265), px_y(15)], anchor="x", range=[300, 380], dtick=20,
               tickfont=Y1TICKFONT, showgrid=True, gridcolor="black", griddash="dash", gridwidth=1,
               showline=True, linecolor="black", linewidth=2, ticks="", ticklabelstandoff=12, zeroline=False,
               ticklabeloverflow="allow"),
    yaxis2=dict(overlaying="y", side="right", anchor="x", range=[0, 400], dtick=50,
                tickfont=Y1TICKFONT, showgrid=False, showline=True, linecolor="#808080", linewidth=1.5,
                ticks="", ticklabelstandoff=13, zeroline=False, ticklabeloverflow="allow"),
    xaxis2=time_axis(108, 1213, "y3", False),
    yaxis3=log_axis(367, 666, "x2"),
    xaxis3=time_axis(101, 1215, "y4", False),
    yaxis4=log_axis(767, 1063, "x3"),
    xaxis4=time_axis(96, 1216, "y5", False),
    yaxis5=log_axis(1171, 1460, "x4"),
    showlegend=True,
    legend=dict(x=px_x(118), y=px_y(36), xanchor="left", yanchor="middle", orientation="h",
                bgcolor="rgba(0,0,0,0)", font=dict(family=FONT, size=12), entrywidth=34, itemwidth=30),
    legend2=dict(x=px_x(924), y=px_y(337), xanchor="left", yanchor="middle", orientation="h",
                 bgcolor="rgba(0,0,0,0)", font=dict(family=FONT, size=13), entrywidth=92, itemwidth=30),
    legend3=dict(x=px_x(844), y=px_y(736), xanchor="left", yanchor="middle", orientation="h",
                 bgcolor="rgba(0,0,0,0)", font=dict(family=FONT, size=13), entrywidth=78, itemwidth=30),
    legend4=dict(x=px_x(364), y=px_y(1140), xanchor="left", yanchor="middle", orientation="h",
                 bgcolor="rgba(0,0,0,0)", font=dict(family=FONT, size=13.5), itemwidth=30),
)
fig.update_layout(**layout)

# legend frames and top dashed border of panel 1
shapes = [
    dict(type="rect", xref="paper", yref="paper", x0=px_x(107), x1=px_x(357), y0=px_y(48), y1=px_y(24),
         line=dict(color="black", width=1), fillcolor="white", layer="above"),
    dict(type="rect", xref="paper", yref="paper", x0=px_x(846), x1=px_x(1214), y0=px_y(356), y1=px_y(318),
         line=dict(color="black", width=1), layer="below"),
    dict(type="rect", xref="paper", yref="paper", x0=px_x(807), x1=px_x(1213), y0=px_y(756), y1=px_y(716),
         line=dict(color="black", width=1), layer="below"),
    dict(type="rect", xref="paper", yref="paper", x0=px_x(346), x1=px_x(1213), y0=px_y(1162), y1=px_y(1118),
         line=dict(color="black", width=1), layer="below"),
    dict(type="line", xref="paper", yref="paper", x0=px_x(100), x1=px_x(1205), y0=px_y(15), y1=px_y(15),
         line=dict(color="#404040", width=1.5, dash="dash")),
]
fig.update_layout(shapes=shapes)

ann = [
    dict(text="平常時最高貯水位　EL365m", x=px_x(842), y=px_y(47), font=dict(color="#FF00FF", size=13)),
    dict(text="低水位　EL331m", x=px_x(847), y=px_y(185), font=dict(color="#0000FF", size=13)),
    dict(text="＜流入河川＞", x=px_x(14), y=px_y(335), font=dict(size=18)),
    dict(text="＜貯水池内＞", x=px_x(11), y=px_y(732), font=dict(size=18)),
    dict(text="＜放流および下流河川＞", x=px_x(9), y=px_y(1123), font=dict(size=18)),
    dict(text="環境基準河川A類型(～1000MPN/100mL)", x=px_x(105), y=px_y(1187),
         font=dict(color="#FF0000", size=18)),
    dict(text="環境基準河川B類型(～5000MPN/100mL)", x=px_x(105), y=px_y(1211),
         font=dict(color="#0000FF", size=18)),
]
for a in ann:
    a.update(xref="paper", yref="paper", xanchor="left", yanchor="middle", showarrow=False)

vt = [
    dict(text="貯水位(EL.m)", x=px_x(40), y=px_y(120)),
    dict(text="流入・放流量(m<sup>3</sup>/s)", x=px_x(1262), y=px_y(130)),
    dict(text="大腸菌群数(MPN/100mL)", x=px_x(33), y=px_y(532)),
    dict(text="大腸菌群数(MPN/100mL)", x=px_x(21), y=px_y(923)),
    dict(text="大腸菌群数(MPN/100mL)", x=px_x(19), y=px_y(1318)),
]
for a in vt:
    a.update(xref="paper", yref="paper", xanchor="center", yanchor="middle", showarrow=False,
             textangle=-90, font=dict(size=16))

fig.update_layout(annotations=ann + vt)

fig.write_html("out.html")
